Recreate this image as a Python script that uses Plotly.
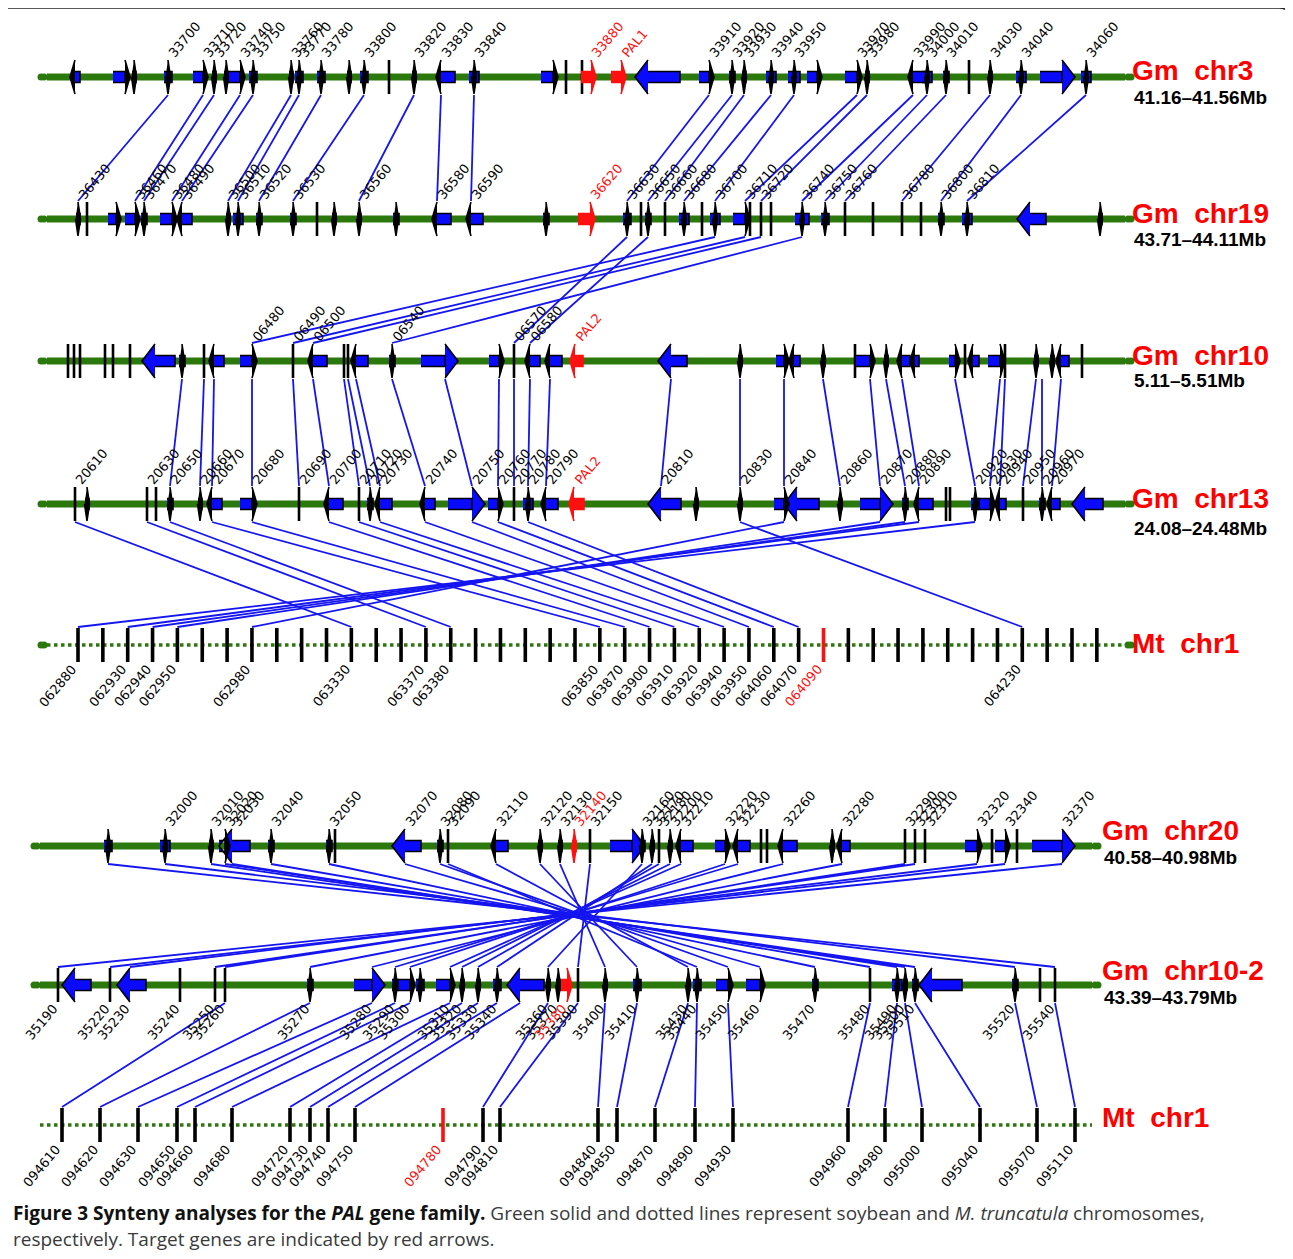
import plotly.graph_objects as go

W, H = 1293, 1259
OFF = 8  # page body margin of the html page

# ---------------- data ----------------
# genes: (position along track, body length, strand, label)
chr3_genes = [
    (75, 5, -1, ""), (125, 12, 1, ""), (134, 4, 0, ""), (168, 8, 0, "33700"),
    (203, 10, 1, "33710"), (214, 4, 0, "33720"), (226, 4, 0, ""), (240, 12, 1, "33740"),
    (253, 8, 0, "33750"), (291, 4, 0, "33760"), (299, 8, 0, "33770"), (321, 8, 0, "33780"),
    (349, 4, 0, ""), (364, 8, 0, "33800"), (389, 0, 0, ""), (414, 4, 0, "33820"),
    (441, 14, -1, "33830"), (474, 10, 0, "33840"), (553, 12, 1, ""), (566, 0, 0, ""),
    (582, 0, 0, ""), (591, 10, 1, "33880"), (621, 10, 1, "PAL1"), (648, 32, -1, ""),
    (709, 10, 1, "33910"), (732, 6, 0, "33920"), (744, 4, 0, "33930"), (771, 10, 0, "33940"),
    (794, 12, 0, "33950"), (817, 10, 1, ""), (857, 12, 1, "33970"), (867, 4, 0, "33980"),
    (913, 14, -1, "33990"), (927, 10, 0, "34000"), (946, 6, 0, "34010"), (969, 0, 0, ""),
    (990, 4, 0, "34030"), (1021, 10, 0, "34040"), (1062, 22, 1, ""), (1086, 10, 0, "34060"),
]
chr19_genes = [
    (78, 4, 0, "36430"), (87, 0, 0, ""), (116, 8, 1, ""), (135, 10, 1, "36460"),
    (144, 6, 0, "36470"), (172, 12, 1, "36480"), (182, 10, -1, "36490"), (228, 4, 0, "36500"),
    (238, 10, 0, "36510"), (259, 6, 0, "36520"), (293, 6, 0, "36530"), (317, 0, 0, ""),
    (334, 4, 0, ""), (359, 4, 0, "36560"), (396, 6, 0, ""), (437, 14, -1, "36580"),
    (471, 12, -1, "36590"), (546, 6, 0, ""), (590, 12, 1, "36620"), (627, 8, 0, "36630"),
    (641, 0, 0, ""), (648, 6, 0, "36650"), (665, 0, 0, "36660"), (684, 10, 0, "36680"),
    (702, 0, 0, ""), (715, 10, 0, "36700"), (745, 12, 1, "36710"), (750, 0, 0, ""),
    (761, 0, 0, "36720"), (771, 0, 0, ""), (802, 14, 0, "36740"), (825, 8, 0, "36750"),
    (845, 0, 0, "36760"), (873, 0, 0, ""), (902, 0, 0, "36780"), (921, 0, 0, ""),
    (941, 6, 0, "36800"), (967, 10, 0, "36810"), (1030, 16, -1, ""), (1100, 4, 0, ""),
]
chr10_genes = [
    (68, 0, 0, ""), (74, 0, 0, ""), (80, 0, 0, ""), (105, 0, 0, ""), (113, 0, 0, ""),
    (130, 0, 0, ""), (155, 20, -1, ""), (182, 6, 0, ""), (204, 0, 0, ""), (214, 10, -1, ""),
    (252, 12, 1, "06480"), (293, 0, 0, "06490"), (313, 14, -1, "06500"), (344, 0, 0, ""),
    (348, 0, 0, ""), (356, 12, -1, ""), (392, 6, 0, "06540"), (445, 24, 1, ""),
    (499, 10, 1, ""), (514, 0, 0, "06570"), (530, 10, -1, "06580"), (550, 12, -1, ""),
    (575, 8, -1, "PAL2"), (671, 16, -1, ""), (740, 4, 0, ""), (784, 8, 1, ""),
    (794, 6, -1, ""), (823, 4, 0, ""), (855, 0, 0, ""), (870, 14, 1, ""), (886, 4, 0, ""),
    (902, 8, -1, ""), (915, 4, -1, ""), (955, 6, 1, ""), (965, 0, 0, ""), (973, 6, -1, ""),
    (1000, 12, 1, ""), (1005, 0, 0, ""), (1036, 4, 0, ""), (1052, 4, 0, ""),
    (1061, 8, -1, ""), (1082, 0, 0, ""),
]
chr13_genes = [
    (75, 0, 0, "20610"), (87, 4, 0, ""), (147, 0, 0, "20630"), (156, 0, 0, ""),
    (170, 6, 0, "20650"), (200, 4, 0, "20660"), (212, 10, -1, "20670"), (252, 12, 1, "20680"),
    (299, 0, 0, "20690"), (329, 14, -1, "20700"), (359, 0, 0, "20710"), (370, 6, 0, "20720"),
    (380, 12, -1, "20730"), (425, 10, -1, "20740"), (472, 24, 1, "20750"), (498, 10, 1, "20760"),
    (514, 0, 0, "20770"), (528, 10, 0, "20780"), (546, 12, -1, "20790"), (574, 10, -1, "PAL2"),
    (661, 20, -1, "20810"), (696, 4, 0, ""), (740, 4, 0, "20830"), (784, 10, 1, "20840"),
    (797, 22, -1, ""), (840, 4, 0, "20860"), (880, 20, 1, "20870"), (905, 6, 0, "20880"),
    (919, 14, -1, "20890"), (946, 0, 0, ""), (950, 0, 0, ""), (975, 8, 0, "20920"),
    (990, 12, 1, "20930"), (1000, 6, -1, "20940"), (1023, 0, 0, "20950"),
    (1042, 6, 0, "20960"), (1052, 8, -1, "20970"), (1085, 18, -1, ""),
]
mt1_count = 42
mt1_labels = {0: "062880", 2: "062930", 3: "062940", 4: "062950", 7: "062980",
              11: "063330", 14: "063370", 15: "063380", 21: "063850", 22: "063870",
              23: "063900", 24: "063910", 25: "063920", 26: "063940", 27: "063950",
              28: "064060", 29: "064070", 30: "064090", 38: "064230"}

chr20_genes = [
    (108, 8, 0, ""), (165, 10, 0, "32000"), (211, 4, 0, "32010"), (225, 6, 1, "32020"),
    (232, 18, -1, "32030"), (271, 6, 0, "32040"), (329, 6, 0, "32050"), (335, 0, 0, ""),
    (405, 16, -1, "32070"), (440, 6, 0, "32080"), (448, 0, 0, "32090"), (496, 12, -1, "32110"),
    (540, 4, 0, "32120"), (560, 4, 0, "32130"), (574, 4, 0, "32140"), (590, 0, 0, "32150"),
    (632, 22, 1, ""), (642, 6, 0, "32160"), (652, 4, 0, "32170"), (659, 0, 0, "32180"),
    (670, 4, 0, "32200"), (681, 12, -1, "32210"), (725, 10, 1, "32220"), (738, 12, -1, "32230"),
    (761, 0, 0, ""), (767, 0, 0, ""), (783, 14, -1, "32260"), (832, 4, 0, ""),
    (842, 8, -1, "32280"), (905, 0, 0, "32290"), (915, 0, 0, "32300"), (925, 0, 0, "32310"),
    (977, 12, 1, "32320"), (992, 0, 0, ""), (1005, 10, 1, "32340"), (1017, 0, 0, ""),
    (1062, 30, 1, "32370"),
]
chr10b_genes = [
    (58, 0, 0, "35190"), (75, 16, -1, ""), (110, 0, 0, "35220"), (130, 16, -1, "35230"),
    (180, 0, 0, "35240"), (215, 0, 0, "35250"), (225, 0, 0, "35260"), (310, 6, 0, "35270"),
    (372, 18, 1, "35280"), (395, 6, 0, "35290"), (410, 12, 1, "35300"), (420, 8, 0, ""),
    (450, 14, 1, "35310"), (462, 4, 0, "35320"), (478, 4, 0, "35330"), (497, 8, 0, "35340"),
    (520, 24, -1, ""), (548, 4, 0, "35360"), (558, 4, 0, "35370"), (567, 6, 1, "35380"),
    (578, 0, 0, "35390"), (605, 4, 0, "35400"), (637, 8, 0, "35410"), (688, 4, 0, "35430"),
    (697, 8, 0, "35440"), (728, 12, 1, "35450"), (760, 14, 1, "35460"), (815, 6, 0, "35470"),
    (870, 0, 0, "35480"), (897, 10, 0, "35490"), (905, 4, 0, "35500"), (915, 6, 0, "35510"),
    (932, 30, -1, ""), (1015, 6, 0, "35520"), (1040, 0, 0, ""), (1055, 0, 0, "35540"),
]
mt2_pos = [62, 100, 138, 177, 195, 232, 290, 310, 328, 355, 443, 483, 500, 598, 617, 655,
           695, 733, 848, 885, 922, 980, 1037, 1075]
mt2_labels = ["094610", "094620", "094630", "094650", "094660", "094680", "094720", "094730",
              "094740", "094750", "094780", "094790", "094810", "094840", "094850", "094870",
              "094890", "094930", "094960", "094980", "095000", "095040", "095070", "095110"]

target_labels = {"33880", "PAL1", "36620", "PAL2", "32140", "35380", "064090", "094780"}

# synteny links: (gene position on upper track, gene position on lower track)
links_3_19 = [(168, 78), (203, 135), (214, 144), (240, 172), (253, 182), (291, 228), (299, 238),
              (321, 259), (364, 293), (414, 359), (441, 437), (474, 471), (709, 627), (732, 648),
              (744, 665), (771, 684), (794, 715), (857, 745), (867, 761), (913, 802), (927, 825),
              (946, 845), (990, 902), (1021, 941), (1086, 967)]
links_19_10 = [(627, 514), (648, 530), (715, 252), (745, 293), (761, 313), (802, 392)]
links_10_13 = [(182, 170), (204, 200), (214, 212), (252, 252), (293, 299), (313, 329), (344, 359),
               (348, 370), (356, 380), (392, 425), (445, 472), (499, 498), (514, 514), (530, 528),
               (550, 546), (671, 661), (740, 740), (784, 784), (823, 840), (870, 880), (886, 905),
               (902, 919), (955, 975), (1000, 990), (1005, 1000), (1036, 1023), (1042, 1042),
               (1061, 1052)]
# lower end given as Mt gene index
links_13_mt = [(975, 0), (919, 2), (905, 3), (880, 4), (784, 7), (75, 11), (147, 14), (170, 15),
               (212, 21), (252, 22), (329, 23), (359, 24), (380, 25), (425, 26), (472, 27),
               (498, 28), (528, 29), (740, 38)]
links_20_10b = [(108, 1055), (165, 1015), (211, 915), (225, 905), (232, 897), (271, 870),
                (329, 815), (405, 760), (440, 728), (448, 697), (496, 688), (540, 637),
                (560, 605), (590, 578), (642, 548), (652, 497), (659, 478), (670, 462),
                (681, 450), (725, 410), (738, 395), (783, 372), (842, 310), (905, 225),
                (915, 215), (977, 130), (1005, 110), (1062, 58)]
links_10b_mt = [(225, 62), (310, 100), (372, 138), (395, 177), (410, 195), (450, 232),
                (462, 290), (478, 310), (497, 328), (520, 355), (548, 483), (578, 500),
                (605, 598), (637, 617), (688, 655), (697, 695), (728, 733), (870, 848),
                (897, 885), (905, 922), (915, 980), (1015, 1037), (1055, 1075)]

# ---------------- layout / style ----------------
Y = dict(chr3=77, chr19=219, chr10=361, chr13=504, mt1=645, chr20=846, chr10b=985, mt2=1125)
TH = 17          # half-height of gene glyph
MT_TH = 17
MT1_X0, MT1_STEP = 78, 24.85
GREEN = "#2b780c"
BLUE = "#0a0aff"
LINK = "#1515f0"
RED = "#ff1010"
LBL_FONT = dict(family="DejaVu Sans", size=13, color="black")
ANG = -50


def mt1_x(k):
    return MT1_X0 + k * MT1_STEP


fig = go.Figure()
ann = []

poly = {"blue": ([], []), "red": ([], []), "black": ([], [])}
ticks = {"black": ([], []), "red": ([], []), "mt": ([], []), "mtred": ([], [])}


def add_poly(key, pts):
    xs, ys = poly[key]
    for px, py in pts:
        xs.append(px)
        ys.append(py)
    xs.append(None)
    ys.append(None)


def add_tick(key, x, y0, y1):
    xs, ys = ticks[key]
    xs += [x, x, None]
    ys += [y0, y1, None]


def label_above(x, y, lab, col):
    ann.append(dict(x=x - 5, y=y - TH + 3, text=lab, textangle=ANG, xanchor="left",
                    yanchor="bottom", showarrow=False, font=dict(LBL_FONT, color=col)))


def label_below(x, y, lab, col):
    ann.append(dict(x=x + 5, y=y + TH - 3, text=lab, textangle=ANG, xanchor="right",
                    yanchor="top", showarrow=False, font=dict(LBL_FONT, color=col)))


def draw_genes(genes, y, labels_below=False):
    for p, L, d, lab in genes:
        red = lab in target_labels
        key = "red" if red else "blue"
        tkey = "red" if red else "black"
        if L == 0 and d == 0:
            add_tick(tkey, p, y - TH, y + TH)
        else:
            if d == 1:
                x0, x1 = p - L, p
            elif d == -1:
                x0, x1 = p, p + L
            else:
                x0, x1 = p - L / 2, p + L / 2
            if L > 0:
                add_poly(key, [(x0, y - 5.5), (x1, y - 5.5), (x1, y + 5.5), (x0, y + 5.5)])
            hkey = key if red else "black"
            if d != 0:
                if L < 16:
                    add_poly(hkey, [(p, y - TH), (p + d * 5, y), (p, y + TH)])
                else:
                    add_poly(key, [(p, y - TH), (p + d * 13, y), (p, y + TH)])
            else:
                add_poly(hkey, [(p, y - TH), (p + 2.5, y), (p, y + TH), (p - 2.5, y)])
        if lab:
            col = RED if red else "black"
            (label_below if labels_below else label_above)(p, y, lab, col)


def track(x0, x1, y, dotted=False, ends=True):
    fig.add_trace(go.Scatter(x=[x0, x1], y=[y, y], mode="lines",
                             line=dict(color=GREEN, width=3.5 if dotted else 7,
                                       dash="dot" if dotted else "solid"),
                             hoverinfo="skip"))
    if ends:
        fig.add_trace(go.Scatter(x=[x0 - 3, x0 - 6, x1 + 3, x1 + 6], y=[y] * 4, mode="markers",
                                 marker=dict(symbol="circle", size=7, color=GREEN),
                                 hoverinfo="skip"))


def links(pairs, y_up, y_low, low_fn=lambda v: v):
    xs, ys = [], []
    for a, b in pairs:
        xs += [a, low_fn(b), None]
        ys += [y_up + TH + 1, y_low - TH - 1, None]
    fig.add_trace(go.Scatter(x=xs, y=ys, mode="lines", line=dict(color=LINK, width=1.8),
                             hoverinfo="skip"))


# tracks
for name in ["chr3", "chr19", "chr10", "chr13"]:
    track(47, 1125, Y[name])
track(47, 1125, Y["mt1"], dotted=True)
track(40, 1092, Y["chr20"])
track(40, 1092, Y["chr10b"])
track(40, 1092, Y["mt2"], dotted=True, ends=False)

# links
links(links_3_19, Y["chr3"], Y["chr19"])
links(links_19_10, Y["chr19"], Y["chr10"])
links(links_10_13, Y["chr10"], Y["chr13"])
links(links_13_mt, Y["chr13"], Y["mt1"], mt1_x)
links(links_20_10b, Y["chr20"], Y["chr10b"])
links(links_10b_mt, Y["chr10b"], Y["mt2"])

# genes
draw_genes(chr3_genes, Y["chr3"])
draw_genes(chr19_genes, Y["chr19"])
draw_genes(chr10_genes, Y["chr10"])
draw_genes(chr13_genes, Y["chr13"])
draw_genes(chr20_genes, Y["chr20"])
draw_genes(chr10b_genes, Y["chr10b"], labels_below=True)

# Mt genes
for k in range(mt1_count):
    lab = mt1_labels.get(k, "")
    red = lab in target_labels
    add_tick("mtred" if red else "mt", mt1_x(k), Y["mt1"] - MT_TH, Y["mt1"] + MT_TH)
    if lab:
        label_below(mt1_x(k), Y["mt1"], lab, RED if red else "black")
for p, lab in zip(mt2_pos, mt2_labels):
    red = lab in target_labels
    add_tick("mtred" if red else "mt", p, Y["mt2"] - MT_TH, Y["mt2"] + MT_TH)
    label_below(p, Y["mt2"], lab, RED if red else "black")

for key, col, w in [("black", "black", 2.6), ("red", RED, 2.8), ("mt", "black", 3.6),
                    ("mtred", RED, 3.6)]:
    xs, ys = ticks[key]
    fig.add_trace(go.Scatter(x=xs, y=ys, mode="lines", line=dict(color=col, width=w),
                             hoverinfo="skip"))
for key, col, lc in [("blue", BLUE, "black"), ("black", "black", "black"), ("red", RED, RED)]:
    xs, ys = poly[key]
    fig.add_trace(go.Scatter(x=xs, y=ys, mode="lines", fill="toself", fillcolor=col,
                             line=dict(color=lc, width=1.6), hoverinfo="skip"))

# chromosome names
NAME_FONT = dict(family="Liberation Sans", size=28, color="#ff0000")
RANGE_FONT = dict(family="Liberation Sans", size=19, color="black")
chrom_text = [
    ("Gm\u00a0\u00a0chr3", "41.16\u201341.56Mb", 1130, Y["chr3"] - 7, Y["chr3"] + 20),
    ("Gm\u00a0\u00a0chr19", "43.71\u201344.11Mb", 1130, Y["chr19"] - 6, Y["chr19"] + 20),
    ("Gm\u00a0\u00a0chr10", "5.11\u20135.51Mb", 1130, Y["chr10"] - 6, Y["chr10"] + 19),
    ("Gm\u00a0\u00a0chr13", "24.08\u201324.48Mb", 1130, Y["chr13"] - 6, Y["chr13"] + 24),
    ("Mt\u00a0\u00a0chr1", "", 1130, Y["mt1"] - 2, 0),
    ("Gm\u00a0\u00a0chr20", "40.58\u201340.98Mb", 1100, Y["chr20"] - 16, Y["chr20"] + 11),
    ("Gm\u00a0\u00a0chr10-2", "43.39\u201343.79Mb", 1100, Y["chr10b"] - 15, Y["chr10b"] + 12),
    ("Mt\u00a0\u00a0chr1", "", 1100, Y["mt2"] - 8, 0),
]
for nm, rg, x, yn, yr in chrom_text:
    ann.append(dict(x=x, y=yn, text="<b>" + nm + "</b>", xanchor="left", yanchor="middle",
                    showarrow=False, font=NAME_FONT))
    if rg:
        ann.append(dict(x=x + 2, y=yr, text="<b>" + rg + "</b>", xanchor="left",
                        yanchor="middle", showarrow=False, font=RANGE_FONT))

# caption
CAP = dict(family="Open Sans", size=19, color="#3a3a3a")
ann.append(dict(x=11, y=1213, xanchor="left", yanchor="middle", showarrow=False, font=CAP,
                text="<b><span style='color:#111'>Figure 3 Synteny analyses for the <i>PAL</i> gene family.</span></b>"
                     " Green solid and dotted lines represent soybean and <i>M. truncatula</i> chromosomes,"))
ann.append(dict(x=11, y=1239, xanchor="left", yanchor="middle", showarrow=False, font=CAP,
                text="respectively. Target genes are indicated by red arrows."))

fig.add_shape(type="path", path="M 8,8 L 1279,8 Q 1291,8 1291,20 L 1291,1259",
              line=dict(color="#222", width=1.5), layer="below")

fig.update_layout(
    width=W - OFF, height=H - OFF, margin=dict(l=0, r=0, t=0, b=0),
    paper_bgcolor="white", plot_bgcolor="white", showlegend=False, hovermode=False,
    xaxis=dict(range=[OFF, W], visible=False, fixedrange=True),
    yaxis=dict(range=[H, OFF], visible=False, fixedrange=True),
    annotations=ann,
)
fig.write_html("out.html")
